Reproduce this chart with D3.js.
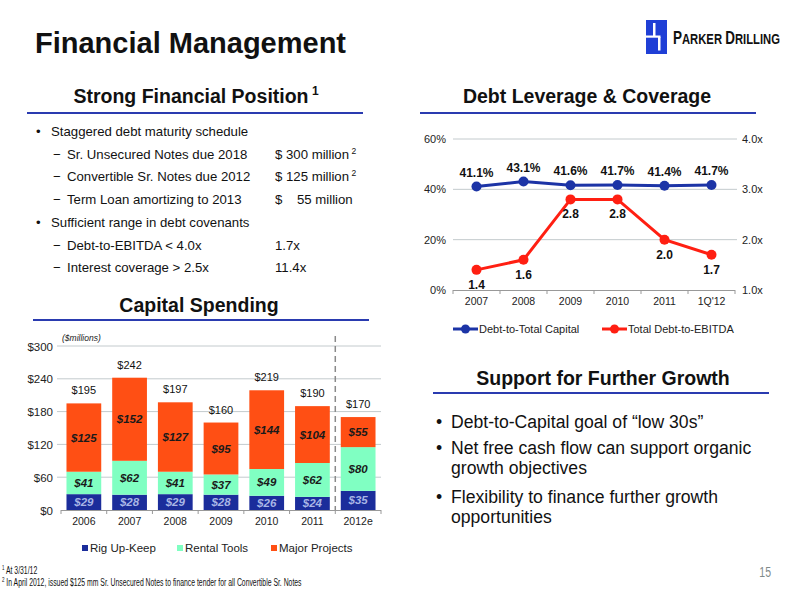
<!DOCTYPE html>
<html><head><meta charset="utf-8">
<script src="https://cdn.jsdelivr.net/npm/d3@7"></script>
<style>
html,body{margin:0;padding:0;background:#fff;}
svg{display:block;font-family:"Liberation Sans",Arial,sans-serif;}
</style></head>
<body>
<svg id="c" width="800" height="600"></svg>
<script>
// ---------- DATA ----------
const lineCats = ["2007","2008","2009","2010","2011","1Q'12"];
const debtToCapital = [41.1, 43.1, 41.6, 41.7, 41.4, 41.7];
const debtToEbitda = [1.4, 1.6, 2.8, 2.8, 2.0, 1.7];
const leftTicks = [0, 20, 40, 60];
const rightTicks = [1.0, 2.0, 3.0, 4.0];
const lineSeriesNames = ["Debt-to-Total Capital", "Total Debt-to-EBITDA"];

const barCats = ["2006","2007","2008","2009","2010","2011","2012e"];
const rigUpKeep = [29, 28, 29, 28, 26, 24, 35];
const rentalTools = [41, 62, 41, 37, 49, 62, 80];
const majorProjects = [125, 152, 127, 95, 144, 104, 55];
const barTotals = [195, 242, 197, 160, 219, 190, 170];
const barTicks = [0, 60, 120, 180, 240, 300];
const barSeriesNames = ["Rig Up-Keep", "Rental Tools", "Major Projects"];

const leftBullets = [
  {lvl:0, t:"Staggered debt maturity schedule"},
  {lvl:1, t:"Sr. Unsecured Notes due 2018", v:"$ 300 million", sup:"2"},
  {lvl:1, t:"Convertible Sr. Notes due 2012", v:"$ 125 million", sup:"2"},
  {lvl:1, t:"Term Loan amortizing to 2013", v:"$    55 million"},
  {lvl:0, t:"Sufficient range in debt covenants"},
  {lvl:1, t:"Debt-to-EBITDA < 4.0x", v:"1.7x"},
  {lvl:1, t:"Interest coverage > 2.5x", v:"11.4x"}
];
const growthBullets = [
  ["Debt-to-Capital goal of \u201clow 30s\u201d"],
  ["Net free cash flow can support organic", "growth objectives"],
  ["Flexibility to finance further growth", "opportunities"]
];
const footnotes = [
  ["1", "At 3/31/12"],
  ["2", "In April 2012, issued $125 mm Sr. Unsecured Notes to finance tender for all Convertible Sr. Notes"]
];

// ---------- DRAW ----------
const svg = d3.select("#c");
const NAVY = "#1b2d9b", MINT = "#80ffc2", ORANGE = "#ff4f14";
const BLUE = "#1c34a6", RED = "#ff1f12", RULE = "#2a3bb0", GRID = "#c3cacd";

function squeeze(sel, x0, sx) {
  sel.attr("transform", `translate(${x0},0) scale(${sx},1) translate(${-x0},0)`);
}

// Title
svg.append("text").attr("x", 35).attr("y", 53).attr("font-size", 29).attr("font-weight", "bold")
  .attr("fill", "#111").text("Financial Management");

// Logo
const logo = svg.append("g");
logo.append("rect").attr("x", 646).attr("y", 20).attr("width", 21).attr("height", 34).attr("fill", "#1f3fd6");
logo.append("rect").attr("x", 653).attr("y", 23).attr("width", 2.5).attr("height", 13.5).attr("fill", "#fff");
logo.append("rect").attr("x", 646).attr("y", 35.5).attr("width", 14.5).attr("height", 2.2).attr("fill", "#fff");
logo.append("rect").attr("x", 658).attr("y", 37).attr("width", 2.5).attr("height", 13.5).attr("fill", "#fff");
const lt = logo.append("text").attr("x", 673).attr("y", 44.5).attr("font-weight", "bold").attr("fill", "#111");
lt.append("tspan").attr("font-size", 18).text("P");
lt.append("tspan").attr("font-size", 15).text("ARKER ");
lt.append("tspan").attr("font-size", 18).text("D");
lt.append("tspan").attr("font-size", 15).text("RILLING");
squeeze(lt, 673, 107 / lt.node().getComputedTextLength());

// Section headings
function heading(txt, cx, y, x1, x2, ly, sup) {
  const t = svg.append("text").attr("x", cx).attr("y", y).attr("text-anchor", "middle")
    .attr("font-size", 19.5).attr("font-weight", "bold").attr("fill", "#111").text(txt);
  if (sup) t.append("tspan").attr("font-size", 12).attr("dy", -8).text(" " + sup);
  svg.append("line").attr("x1", x1).attr("x2", x2).attr("y1", ly).attr("y2", ly)
    .attr("stroke", RULE).attr("stroke-width", 2);
}
heading("Strong Financial Position", 196, 103, 27, 363, 113, "1");
heading("Debt Leverage & Coverage", 587, 103, 420, 756, 113);
heading("Capital Spending", 199, 312, 33, 369, 320);
heading("Support for Further Growth", 603, 385, 433, 769, 393);

// Left bullets
const lb = [136, 158.5, 181, 203.5, 226.5, 249.5, 271.5];
leftBullets.forEach((b, i) => {
  const y = lb[i];
  const fs = 13.2;
  if (b.lvl === 0) {
    svg.append("text").attr("x", 36).attr("y", y).attr("font-size", fs).attr("fill", "#111").text("\u2022");
    svg.append("text").attr("x", 51).attr("y", y).attr("font-size", fs).attr("fill", "#111").text(b.t);
  } else {
    svg.append("text").attr("x", 53).attr("y", y).attr("font-size", fs).attr("fill", "#111").text("\u2212");
    svg.append("text").attr("x", 67).attr("y", y).attr("font-size", fs).attr("fill", "#111").text(b.t);
    const v = svg.append("text").attr("x", 275).attr("y", y).attr("font-size", fs).attr("fill", "#111")
      .attr("xml:space", "preserve").style("white-space", "pre").text(b.v);
    if (b.sup) v.append("tspan").attr("font-size", 8.5).attr("dy", -5).text(" " + b.sup);
  }
});

// Growth bullets
const gb = [[427.5], [454, 474], [503, 523]];
growthBullets.forEach((lines, i) => {
  svg.append("text").attr("x", 436).attr("y", gb[i][0]).attr("font-size", 17.6).attr("fill", "#111").text("\u2022");
  lines.forEach((l, j) => {
    svg.append("text").attr("x", 451).attr("y", gb[i][j]).attr("font-size", 17.6).attr("fill", "#111").text(l);
  });
});

// ---------- Line chart ----------
{
  const xb = d3.scaleBand().domain(lineCats).range([453, 735]);
  const x = d => xb(d) + xb.bandwidth() / 2;
  const yL = d3.scaleLinear().domain([0, 60]).range([290, 139]);
  const yR = d3.scaleLinear().domain([1, 4]).range([290, 139]);
  const g = svg.append("g");
  leftTicks.forEach(t => {
    if (t > 0) g.append("line").attr("x1", 453).attr("x2", 737).attr("y1", yL(t)).attr("y2", yL(t))
      .attr("stroke", GRID).attr("stroke-width", 1);
    g.append("text").attr("x", 446).attr("y", yL(t) + 4).attr("text-anchor", "end").attr("font-size", 11)
      .attr("fill", "#222").text(t + "%");
  });
  rightTicks.forEach(t => {
    g.append("text").attr("x", 742).attr("y", yR(t) + 4).attr("font-size", 11).attr("fill", "#222").text(t.toFixed(1) + "x");
  });
  g.append("line").attr("x1", 453).attr("x2", 735).attr("y1", 290.5).attr("y2", 290.5).attr("stroke", "#999");
  lineCats.concat([null]).forEach(c => {
    const xx = c === null ? 735 : xb(c);
    g.append("line").attr("x1", xx).attr("x2", xx).attr("y1", 290).attr("y2", 294).attr("stroke", "#999");
  });
  lineCats.forEach(c => {
    g.append("text").attr("x", x(c)).attr("y", 305).attr("text-anchor", "middle").attr("font-size", 10.5)
      .attr("fill", "#222").text(c);
  });
  const lineB = d3.line().x((d, i) => x(lineCats[i])).y(d => yL(d));
  const lineR = d3.line().x((d, i) => x(lineCats[i])).y(d => yR(d));
  g.append("path").attr("d", lineR(debtToEbitda)).attr("fill", "none").attr("stroke", RED).attr("stroke-width", 3);
  g.append("path").attr("d", lineB(debtToCapital)).attr("fill", "none").attr("stroke", BLUE).attr("stroke-width", 3);
  debtToCapital.forEach((v, i) => {
    g.append("circle").attr("cx", x(lineCats[i])).attr("cy", yL(v)).attr("r", 5).attr("fill", BLUE);
    g.append("text").attr("x", x(lineCats[i])).attr("y", yL(v) - 10).attr("text-anchor", "middle")
      .attr("font-size", 12).attr("font-weight", "bold").attr("fill", "#111").text(v.toFixed(1) + "%");
  });
  debtToEbitda.forEach((v, i) => {
    g.append("circle").attr("cx", x(lineCats[i])).attr("cy", yR(v)).attr("r", 5).attr("fill", RED);
    g.append("text").attr("x", x(lineCats[i])).attr("y", yR(v) + 19).attr("text-anchor", "middle")
      .attr("font-size", 12).attr("font-weight", "bold").attr("fill", "#111").text(v.toFixed(1));
  });
  const leg = [[453, BLUE], [602, RED]];
  leg.forEach((l, i) => {
    g.append("line").attr("x1", l[0]).attr("x2", l[0] + 25).attr("y1", 329).attr("y2", 329).attr("stroke", l[1]).attr("stroke-width", 3);
    g.append("circle").attr("cx", l[0] + 12.5).attr("cy", 329).attr("r", 4.5).attr("fill", l[1]);
    g.append("text").attr("x", l[0] + 26).attr("y", 333).attr("font-size", 11).attr("fill", "#222").text(lineSeriesNames[i]);
  });
}

// ---------- Bar chart ----------
{
  const x = d3.scaleBand().domain(barCats).range([61, 381]).paddingInner(0.24).paddingOuter(0.12);
  const y = d3.scaleLinear().domain([0, 300]).range([510, 346]);
  const g = svg.append("g");
  barTicks.forEach(t => {
    if (t > 0) g.append("line").attr("x1", 57).attr("x2", 381).attr("y1", y(t)).attr("y2", y(t))
      .attr("stroke", GRID).attr("stroke-width", 1);
    g.append("text").attr("x", 53).attr("y", y(t) + 4.5).attr("text-anchor", "end").attr("font-size", 11.5)
      .attr("fill", "#222").text("$" + t);
  });
  const stackData = barCats.map((c, i) => ({cat: c, r: rigUpKeep[i], t: rentalTools[i], m: majorProjects[i]}));
  const series = d3.stack().keys(["r", "t", "m"])(stackData);
  const cols = [NAVY, MINT, ORANGE];
  const lblCols = ["#a9b6e6", "#1a1a1a", "#1a1a1a"];
  series.forEach((s, si) => {
    s.forEach(d => {
      g.append("rect").attr("x", x(d.data.cat)).attr("width", x.bandwidth())
        .attr("y", y(d[1])).attr("height", y(d[0]) - y(d[1])).attr("fill", cols[si]);
    });
  });
  series.forEach((s, si) => {
    s.forEach(d => {
      g.append("text").attr("x", x(d.data.cat) + x.bandwidth() / 2).attr("y", y((d[0] + d[1]) / 2) + 4)
        .attr("text-anchor", "middle").attr("font-size", 11.5).attr("font-weight", "bold").attr("font-style", "italic")
        .attr("fill", lblCols[si]).text("$" + (d[1] - d[0]));
    });
  });
  barCats.forEach((c, i) => {
    g.append("text").attr("x", x(c) + x.bandwidth() / 2).attr("y", y(barTotals[i]) - 9).attr("text-anchor", "middle")
      .attr("font-size", 11).attr("fill", "#111").text("$" + barTotals[i]);
  });
  g.append("line").attr("x1", 61).attr("x2", 381).attr("y1", 510.5).attr("y2", 510.5).attr("stroke", "#999");
  const step = x.step();
  d3.range(barCats.length + 1).forEach(i => {
    const xx = x(barCats[0]) - (step - x.bandwidth()) / 2 + i * step;
    g.append("line").attr("x1", xx).attr("x2", xx).attr("y1", 510).attr("y2", 514).attr("stroke", "#999");
  });
  barCats.forEach(c => {
    g.append("text").attr("x", x(c) + x.bandwidth() / 2).attr("y", 525).attr("text-anchor", "middle")
      .attr("font-size", 10.5).attr("fill", "#222").text(c);
  });
  const sx = x("2012e") - (x.step() - x.bandwidth()) / 2;
  g.append("line").attr("x1", sx).attr("x2", sx).attr("y1", 336).attr("y2", 510)
    .attr("stroke", "#8a8a8a").attr("stroke-width", 1.5).attr("stroke-dasharray", "6,4");
  g.append("text").attr("x", 62).attr("y", 341).attr("font-size", 8.5).attr("font-style", "italic")
    .attr("fill", "#222").text("($millions)");
  const lx = [82, 177, 271];
  barSeriesNames.forEach((n, i) => {
    g.append("rect").attr("x", lx[i]).attr("y", 545).attr("width", 6).attr("height", 6).attr("fill", cols[i]);
    g.append("text").attr("x", lx[i] + 8).attr("y", 552).attr("font-size", 11.5).attr("fill", "#222").text(n);
  });
}

// Footnotes
const fy = [574, 586];
footnotes.forEach((f, i) => {
  const t = svg.append("text").attr("x", 2).attr("y", fy[i]).attr("font-size", 10).attr("fill", "#111");
  t.append("tspan").attr("font-size", 6.5).attr("dy", -3.5).text(f[0]);
  t.append("tspan").attr("dy", 3.5).text(" " + f[1]);
  squeeze(t, 2, 0.685);
});
const pg = svg.append("text").attr("x", 771).attr("y", 577).attr("text-anchor", "end").attr("font-size", 14)
  .attr("fill", "#7f8a8a").text("15");
squeeze(pg, 771, 0.75);
</script>
</body></html>
